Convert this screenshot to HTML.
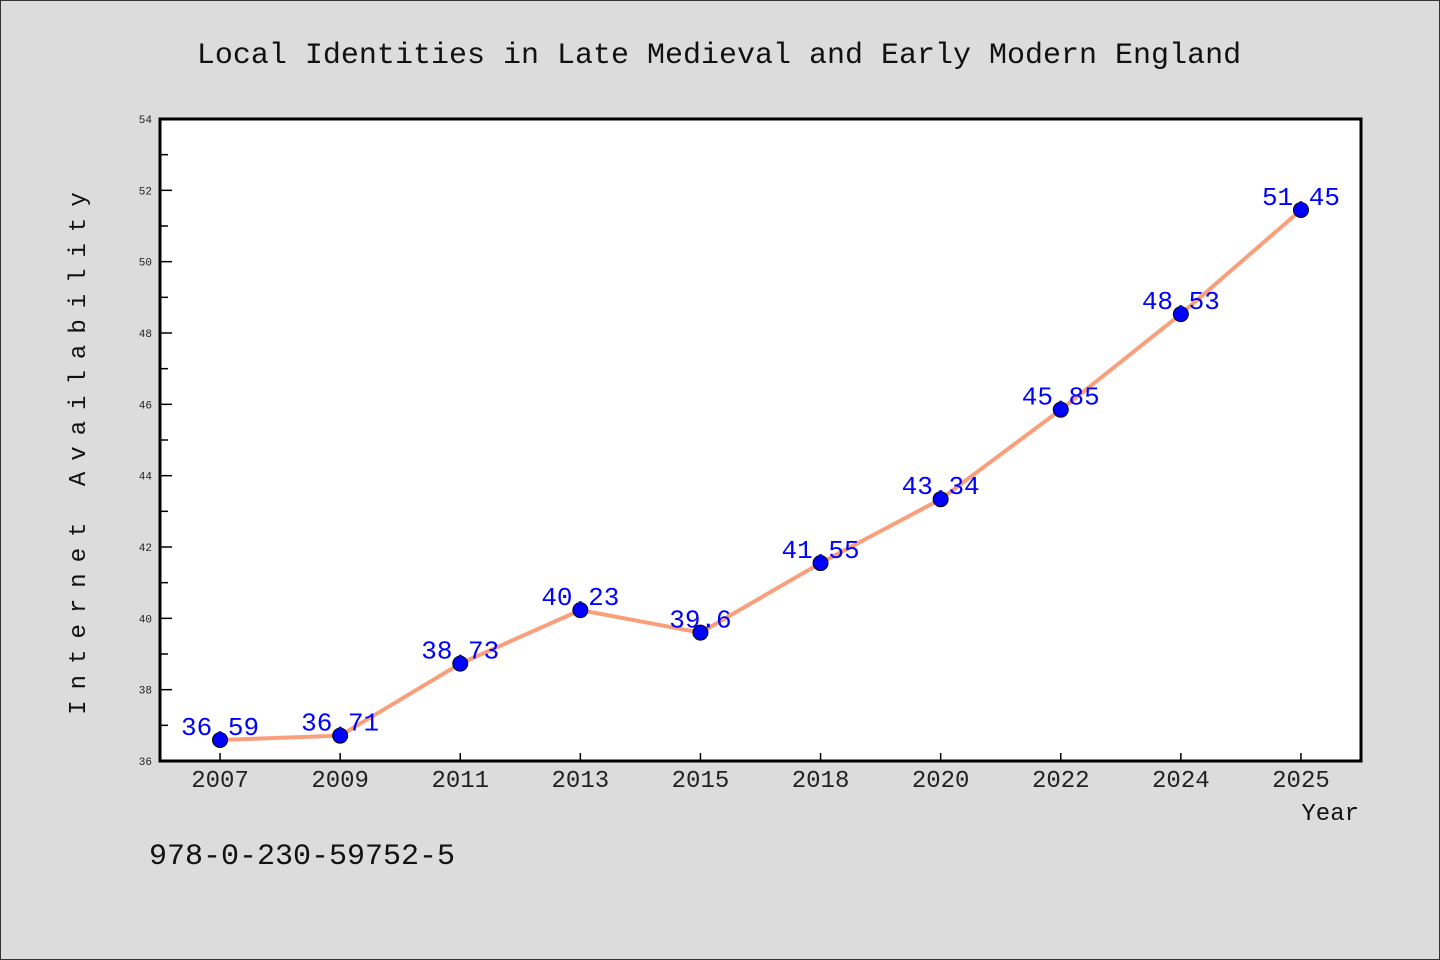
<!DOCTYPE html>
<html><head><meta charset="utf-8"><style>
html,body{margin:0;padding:0;background:#dcdcdc;}
svg{display:block;}
text{font-family:"Liberation Mono","DejaVu Sans Mono",monospace;}
</style></head><body>
<svg id="chart" width="1440" height="960" xmlns="http://www.w3.org/2000/svg">
<rect x="0.5" y="0.5" width="1439" height="959" fill="#dcdcdc" stroke="#333"/>
<text x="719" y="63" font-size="30" text-anchor="middle" fill="#111">Local Identities in Late Medieval and Early Modern England</text>
<rect x="160" y="119" width="1201" height="642" fill="#fff"/>
<g id="yaxis"></g>
<g id="xaxis"></g>
<g id="series"></g>
<rect x="160" y="119" width="1201" height="642" fill="none" stroke="#000" stroke-width="3"/>
<text transform="translate(85,448) rotate(-90)" font-size="24" text-anchor="middle" letter-spacing="11" fill="#111">Internet Availability</text>
<text x="1359" y="820" font-size="24" text-anchor="end" fill="#111">Year</text>
<text x="149" y="864" font-size="30" fill="#111">978-0-230-59752-5</text>
</svg>
<script>
const categories=["2007","2009","2011","2013","2015","2018","2020","2022","2024","2025"];
const values=[36.59,36.71,38.73,40.23,39.6,41.55,43.34,45.85,48.53,51.45];
const valueLabels=["36.59","36.71","38.73","40.23","39.6","41.55","43.34","45.85","48.53","51.45"];
const yTicks=[36,38,40,42,44,46,48,50,52,54];
const yMin=36,yMax=54,plotTop=119,plotBottom=761,plotLeft=160,plotRight=1361;
const NS="http://www.w3.org/2000/svg";
const step=(plotRight-plotLeft)/categories.length;
function xs(i){return plotLeft+step*(i+0.5);}
function ys(v){return plotBottom-(v-yMin)/(yMax-yMin)*(plotBottom-plotTop);}
function mk(tag,attrs,parent){const e=document.createElementNS(NS,tag);for(const k in attrs)e.setAttribute(k,attrs[k]);parent.appendChild(e);return e;}
const ya=document.getElementById('yaxis'),xa=document.getElementById('xaxis'),sg=document.getElementById('series');
yTicks.forEach((t,i)=>{
 const l=mk('line',{x1:plotLeft,x2:plotLeft+12,y1:ys(t),y2:ys(t),stroke:'#000','stroke-width':1.5},ya);
 
 
 const tx=mk('text',{x:plotLeft-8,y:ys(t)+4,'font-size':11,'text-anchor':'end',fill:'#222'},ya);
 tx.textContent=t;
 
 
 if(i<yTicks.length-1){
  const m=mk('line',{x1:plotLeft,x2:plotLeft+8,y1:ys(t+1),y2:ys(t+1),stroke:'#000','stroke-width':1.5},ya);
  
  
 }
});
categories.forEach((c,i)=>{
 const l=mk('line',{x1:xs(i),x2:xs(i),y1:plotBottom-8,y2:plotBottom,stroke:'#000','stroke-width':1.5},xa);
 
 
 const tx=mk('text',{x:xs(i),y:plotBottom+26,'font-size':24,'text-anchor':'middle',fill:'#222'},xa);
 tx.textContent=c;
 
 
});
const pl=mk('polyline',{points:values.map((v,i)=>xs(i)+','+ys(v)).join(' '),fill:'none',stroke:'#fa9f7c','stroke-width':4,'stroke-linejoin':'round'},sg);


values.forEach((v,i)=>{
 const c=mk('circle',{cx:xs(i),cy:ys(v),r:7.5,fill:'#0000ff',stroke:'#000','stroke-width':1},sg);
 
 
});
values.forEach((v,i)=>{
 const t=mk('text',{x:xs(i),y:ys(v)-5,'font-size':26,'text-anchor':'middle',fill:'#0000ff'},sg);
 t.textContent=valueLabels[i];
 
 
});
</script>
</body></html>
